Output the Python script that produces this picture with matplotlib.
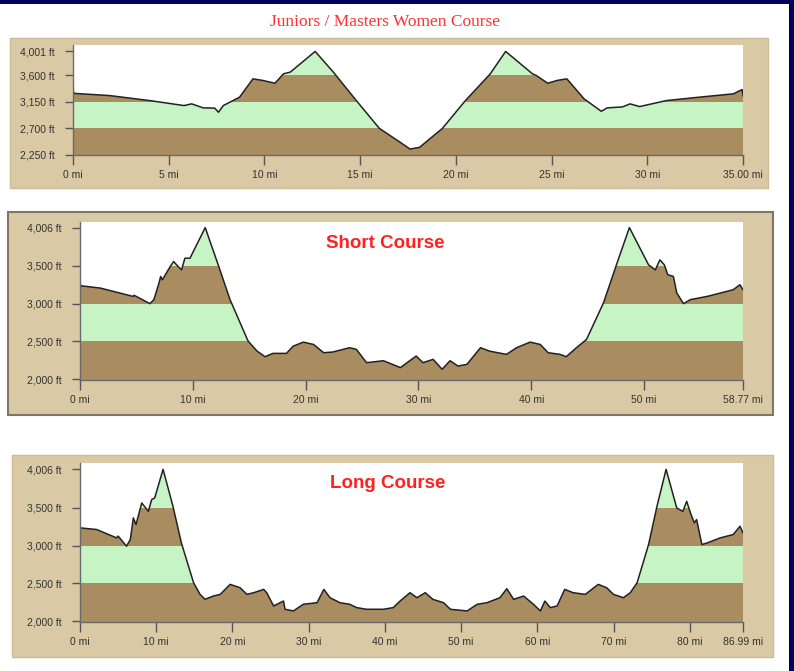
import numpy as np
import matplotlib
matplotlib.use("Agg")
import matplotlib.pyplot as plt
from matplotlib.patches import Rectangle

# elevation profiles (miles, feet)
juniors_mi = [0, 0.05, 1.9, 4.0, 5.8, 6.2, 6.8, 7.4, 7.6, 7.85, 8.7, 9.4, 9.9,
              10.55, 11.0, 11.35, 12.65, 13.6, 14.8, 16.0, 17.1, 17.6, 18.1,
              19.3, 20.5, 21.8, 22.6, 24.0, 24.2, 24.8, 25.3, 25.8, 26.7,
              27.6, 27.9, 28.7, 29.1, 29.6, 31.0, 32.7, 34.5, 34.95, 35.0]
juniors_ft = [3355, 3290, 3253, 3168, 3083, 3112, 3044, 3040, 2970, 3083, 3225,
              3536, 3510, 3462, 3622, 3650, 4001, 3650, 3168, 2697, 2459, 2346,
              2374, 2697, 3168, 3622, 4001, 3622, 3593, 3462, 3510, 3536, 3196,
              2986, 3044, 3060, 3112, 3066, 3168, 3225, 3282, 3355, 3253]

short_mi = [0, 0.05, 1.8, 4.7, 4.8, 6.2, 6.55, 7.0, 7.15, 7.3, 8.0, 8.3, 8.7,
            9.0, 9.3, 9.75, 11.1, 12.25, 13.3, 14.9, 15.7, 16.4, 17.1, 18.3,
            18.9, 19.8, 20.7, 21.6, 22.4, 23.9, 24.5, 25.4, 26.9, 28.4, 29.8,
            30.4, 31.3, 32.1, 32.8, 33.5, 34.3, 35.5, 36.3, 37.8, 38.7, 39.9,
            40.8, 41.5, 42.55, 43.1, 44.0, 44.9, 46.4, 47.6, 48.7, 50.4, 51.0,
            51.4, 51.8, 52.1, 52.6, 52.9, 53.5, 54.1, 55.6, 57.0, 57.9, 58.5,
            58.77]
short_ft = [3316, 3237, 3206, 3096, 3110, 3000, 3053, 3272, 3360, 3316, 3491,
            3557, 3491, 3447, 3601, 3601, 4006, 3513, 3053, 2504, 2372, 2298,
            2342, 2342, 2438, 2491, 2460, 2351, 2360, 2417, 2395, 2219, 2245,
            2154, 2307, 2219, 2263, 2132, 2245, 2175, 2197, 2417, 2372, 2329,
            2417, 2491, 2460, 2351, 2329, 2298, 2417, 2526, 3009, 3535, 4006,
            3513, 3447, 3579, 3513, 3382, 3360, 3141, 3000, 3053, 3096, 3149,
            3184, 3250, 3184]

long_mi = [0, 0.05, 2.2, 4.8, 5.0, 6.1, 6.6, 7.0, 7.35, 8.1, 8.97, 9.4, 9.8,
           10.9, 12.2, 13.3, 14.9, 15.75, 16.4, 17.5, 18.4, 19.7, 21.0, 21.9,
           22.8, 24.1, 24.5, 25.4, 26.7, 26.9, 28.0, 29.3, 31.1, 32.0, 32.8,
           34.1, 35.4, 36.3, 37.6, 39.8, 41.1, 42.0, 43.3, 44.2, 45.3, 46.3,
           47.7, 48.6, 50.8, 52.1, 53.4, 55.1, 56.0, 56.9, 58.2, 59.5, 60.4,
           61.0, 61.7, 62.6, 63.6, 64.7, 66.3, 68.0, 69.1, 70.0, 71.3, 72.2,
           73.1, 74.6, 75.7, 76.9, 78.3, 79.1, 79.6, 80.1, 80.6, 80.9, 81.6,
           82.3, 84.0, 85.7, 86.6, 86.99]
long_ft = [3320, 3233, 3211, 3101, 3125, 2991, 3079, 3365, 3277, 3562, 3452,
           3606, 3628, 4006, 3517, 3035, 2509, 2355, 2290, 2333, 2355, 2487,
           2443, 2355, 2377, 2421, 2377, 2202, 2267, 2158, 2136, 2224, 2245,
           2421, 2311, 2245, 2224, 2180, 2158, 2158, 2180, 2267, 2377, 2311,
           2377, 2289, 2245, 2158, 2136, 2224, 2245, 2311, 2430, 2289, 2333,
           2224, 2136, 2267, 2180, 2202, 2421, 2377, 2355, 2487, 2443, 2355,
           2311, 2377, 2509, 3013, 3517, 4006, 3495, 3452, 3584, 3430, 3299,
           3343, 3013, 3035, 3101, 3145, 3255, 3167]

juniors_yticks = [2250, 2700, 3150, 3600, 4001]
juniors_xticks = [0, 5, 10, 15, 20, 25, 30, 35]
juniors_xlabels = ["0 mi", "5 mi", "10 mi", "15 mi", "20 mi", "25 mi", "30 mi", "35.00 mi"]

short_yticks = [2000, 2500, 3000, 3500, 4006]
short_xticks = [0, 10, 20, 30, 40, 50, 58.77]
short_xlabels = ["0 mi", "10 mi", "20 mi", "30 mi", "40 mi", "50 mi", "58.77 mi"]

long_yticks = [2000, 2500, 3000, 3500, 4006]
long_xticks = [0, 10, 20, 30, 40, 50, 60, 70, 80, 86.99]
long_xlabels = ["0 mi", "10 mi", "20 mi", "30 mi", "40 mi", "50 mi", "60 mi",
                "70 mi", "80 mi", "86.99 mi"]

BROWN = "#a98c60"
GREEN = "#c6f4c4"
TAN = "#d9c9a5"
W, H = 794, 671


def px_rect(x0, y0, x1, y1):
    return [x0 / W, 1 - y1 / H, (x1 - x0) / W, (y1 - y0) / H]


def draw_profile(fig, rect, miles, feet, yticks, xticks, xlabels, ylim):
    ax = fig.add_axes(rect)
    # area under the profile, used as a clip shape for the coloured bands
    area = ax.fill_between(miles, ylim[0], feet, facecolor="none", lw=0)
    clip = area.get_paths()[0]
    edges = [ylim[0]] + yticks[1:-1] + [ylim[1]]
    for i in range(len(edges) - 1):
        color = BROWN if i % 2 == 0 else GREEN
        band = ax.axhspan(edges[i], edges[i + 1], color=color, lw=0)
        band.set_clip_path(clip, ax.transData)
    ax.plot(miles, feet, color="#222222", lw=1.1)

    ax.set_xlim(miles[0], miles[-1])
    ax.set_ylim(*ylim)
    ax.set_facecolor("white")
    ax.set_xticks(xticks)
    ax.set_xticklabels(xlabels)
    ax.set_yticks(yticks)
    ax.set_yticklabels([f"{v:,} ft" for v in yticks])
    for side in ["top", "right"]:
        ax.spines[side].set_visible(False)
    for side in ["left", "bottom"]:
        ax.spines[side].set_color("#6a6a6a")
        ax.spines[side].set_linewidth(1.0)
    ax.tick_params(axis="x", length=7, width=1, color="#555555", pad=4,
                   labelsize=7.5, labelcolor="#333333")
    ax.tick_params(axis="y", length=6, width=1, color="#555555", pad=7,
                   labelsize=7.5, labelcolor="#333333")
    for lab in ax.get_xticklabels() + ax.get_yticklabels():
        lab.set_family(["Liberation Sans", "DejaVu Sans"])
    return ax


fig = plt.figure(figsize=(W / 100, H / 100), dpi=100)
fig.patch.set_facecolor("white")

# tan panel backgrounds
fig.add_artist(Rectangle((10 / W, 1 - 188 / H), 758 / W, 150 / H,
                         transform=fig.transFigure, facecolor=TAN,
                         edgecolor="#cdbb96", lw=1, zorder=-5))
fig.add_artist(Rectangle((8 / W, 1 - 415 / H), 765 / W, 203 / H,
                         transform=fig.transFigure, facecolor=TAN,
                         edgecolor="#7f7666", lw=1.5, zorder=-5))
fig.add_artist(Rectangle((12 / W, 1 - 657 / H), 761 / W, 202 / H,
                         transform=fig.transFigure, facecolor=TAN,
                         edgecolor="#cdbb96", lw=1, zorder=-5))

# navy frame edges
fig.add_artist(Rectangle((0, 1 - 4 / H), 1, 4 / H, transform=fig.transFigure,
                         facecolor="#00005c", lw=0, zorder=5))
fig.add_artist(Rectangle((789 / W, 0), 5 / W, 1, transform=fig.transFigure,
                         facecolor="#00005c", lw=0, zorder=5))

draw_profile(fig, px_rect(73, 45, 743, 155), juniors_mi, juniors_ft,
             juniors_yticks, juniors_xticks, juniors_xlabels, (2245, 4110))
draw_profile(fig, px_rect(80, 222, 743, 380), short_mi, short_ft,
             short_yticks, short_xticks, short_xlabels, (1990, 4080))
draw_profile(fig, px_rect(80, 463, 743, 622), long_mi, long_ft,
             long_yticks, long_xticks, long_xlabels, (1990, 4090))

fig.text(385 / W, 1 - 22 / H, "Juniors / Masters Women Course", ha="center",
         va="center", color="#ff3030", fontsize=12.5,
         family=["Liberation Serif", "DejaVu Serif"])
fig.text(385 / W, 1 - 243 / H, "Short Course", ha="center", va="center",
         color="#ff2020", fontsize=13.5, fontweight="bold",
         family=["Liberation Sans", "DejaVu Sans"])
fig.text(388 / W, 1 - 483 / H, "Long Course", ha="center", va="center",
         color="#ff2020", fontsize=13.5, fontweight="bold",
         family=["Liberation Sans", "DejaVu Sans"])

fig.savefig("out.png", dpi=100)
